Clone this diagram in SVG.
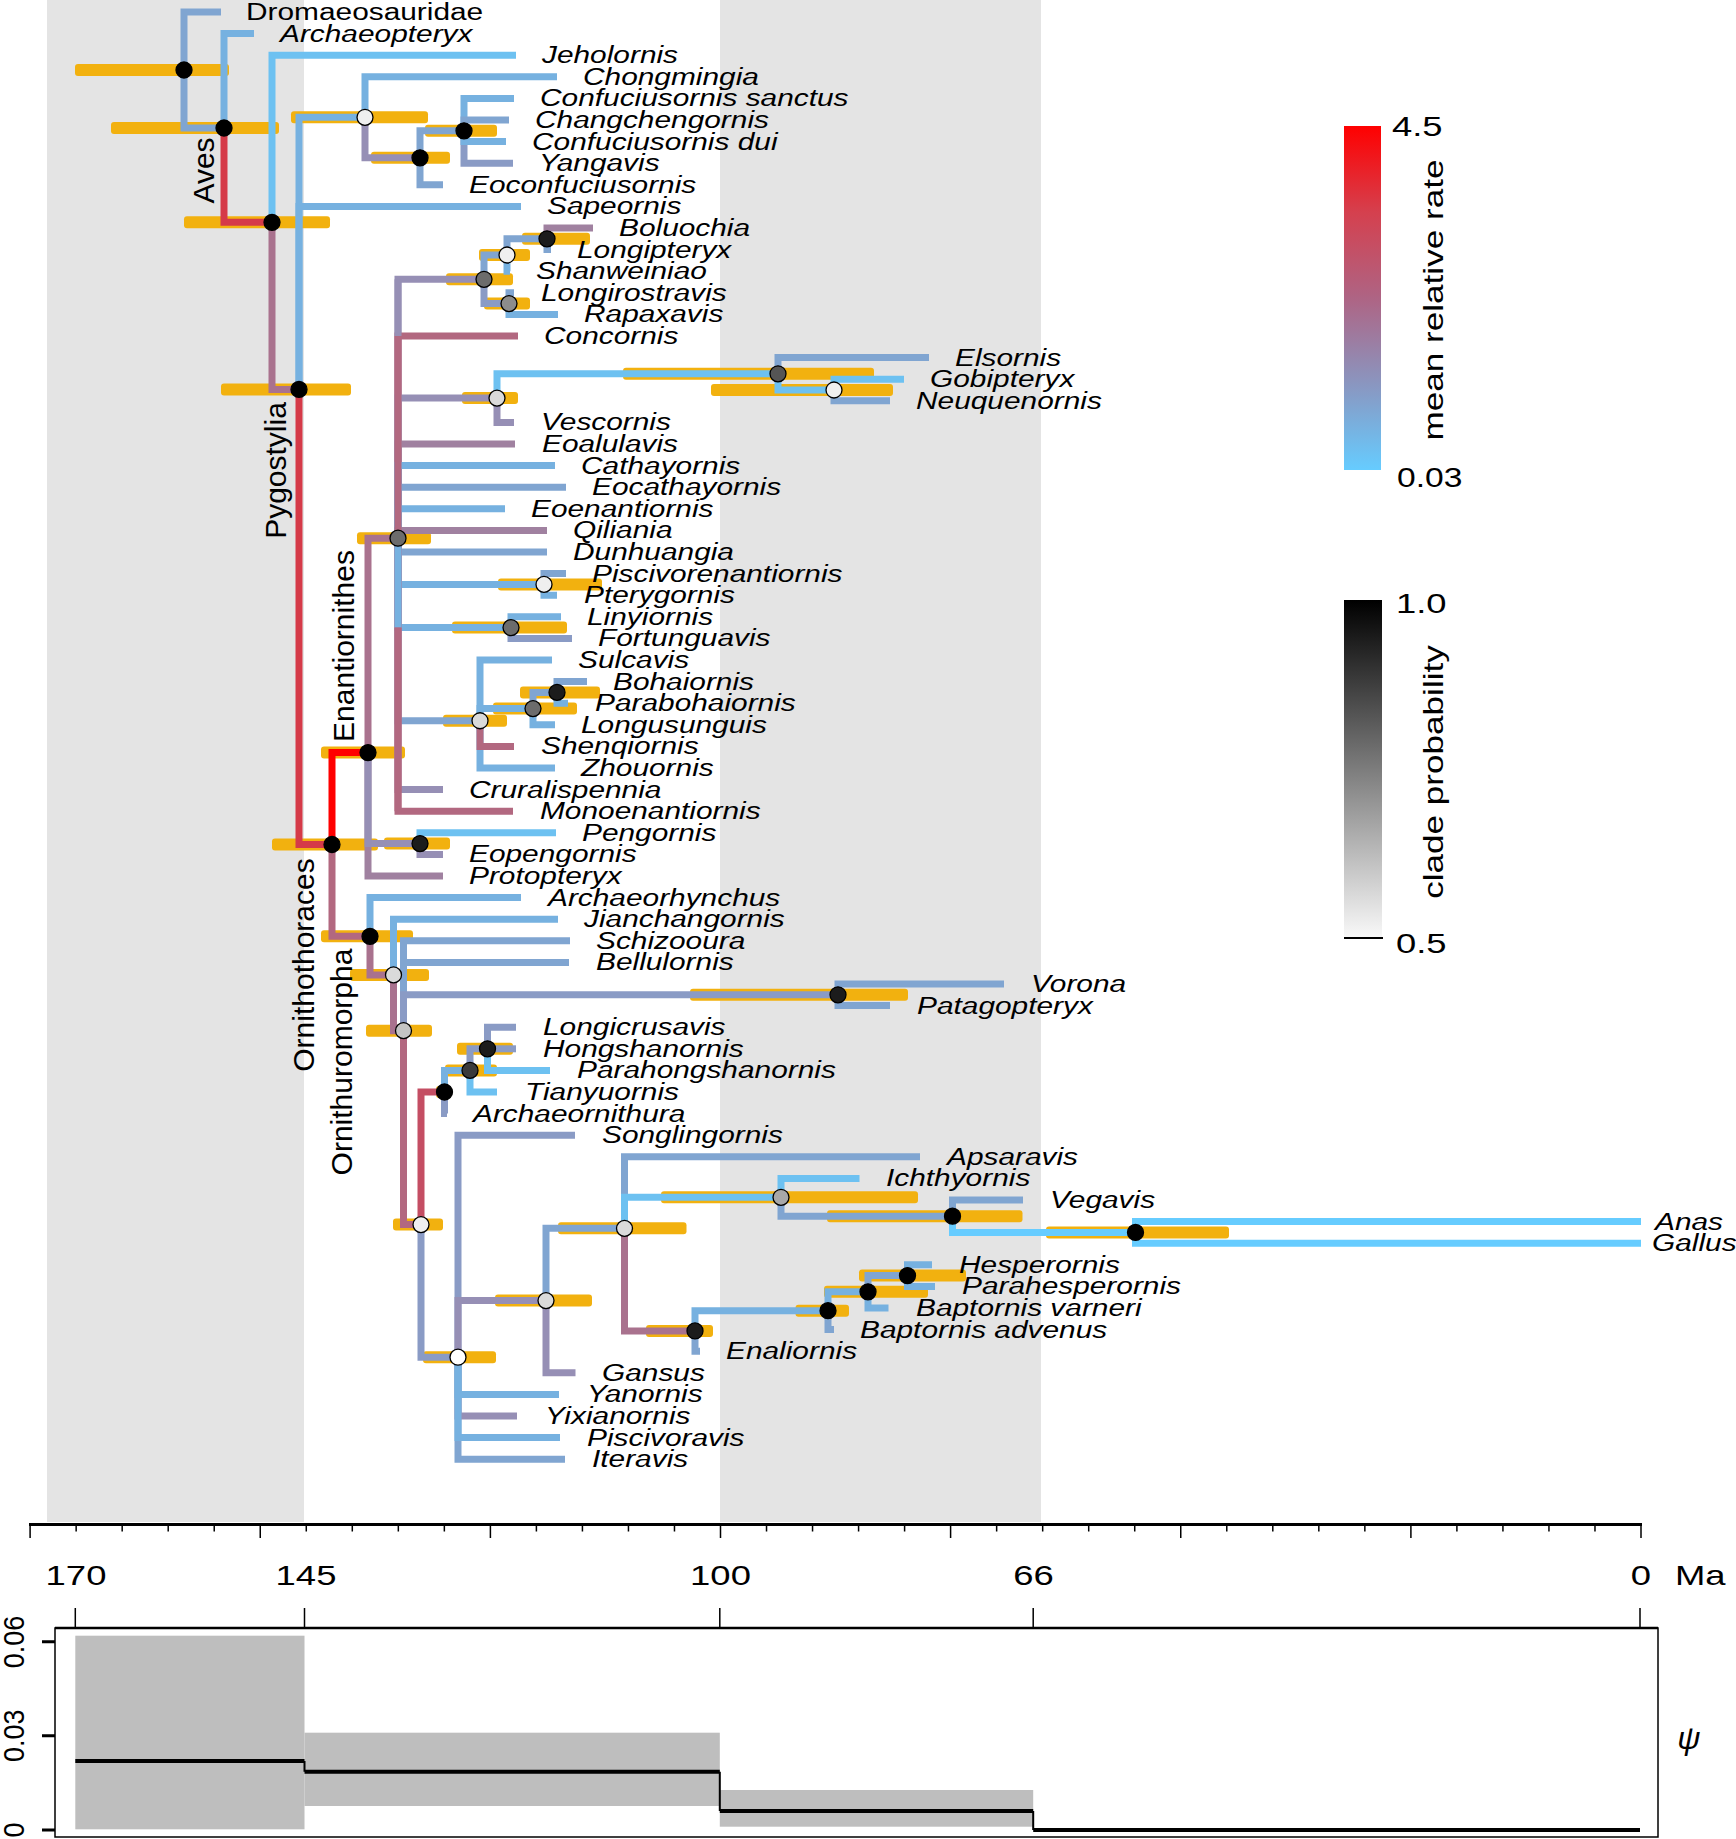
<svg xmlns="http://www.w3.org/2000/svg" width="1736" height="1839" viewBox="0 0 1736 1839">
<defs>
<style>
.bg{fill:#E4E4E4}
.hpd{fill:#F2B10F}
.br{fill:none;stroke-width:7;stroke-linecap:butt;stroke-linejoin:miter}
.b0{stroke:#66CCFF}.b1{stroke:#6DC1F1}.b2{stroke:#76B1E0}.b3{stroke:#80A5D1}.b4{stroke:#8A9BC5}.b5{stroke:#968FB5}
.b6{stroke:#A081A0}.b7{stroke:#A9728E}.b8{stroke:#B26880}.b9{stroke:#C44E63}.b10{stroke:#D53A48}.b11{stroke:#FF0000}
.nd{stroke:#000;stroke-width:1.3}
.k0{fill:#000}.k1{fill:#1c1c1c}.k2{fill:#3a3a3a}.k3{fill:#555}.k4{fill:#6c6c6c}.k5{fill:#8c8c8c}.k6{fill:#a8a8a8}.k7{fill:#c4c4c4}.k8{fill:#dadada}.k9{fill:#efefef}.k10{fill:#fff}
.tl{font-family:"Liberation Sans",Arial,sans-serif;font-size:23.5px;font-style:italic;fill:#000}
.tu{font-family:"Liberation Sans",Arial,sans-serif;font-size:23.5px;fill:#000}
.cl{font-family:"Liberation Sans",Arial,sans-serif;font-size:30px;fill:#000;text-anchor:middle}
.lg{font-family:"Liberation Sans",Arial,sans-serif;font-size:28px;fill:#000}
.lr{font-family:"Liberation Sans",Arial,sans-serif;font-size:27px;fill:#000;text-anchor:middle}
.ax{font-family:"Liberation Sans",Arial,sans-serif;font-size:27px;fill:#000;text-anchor:middle}
.ln{stroke:#000;fill:none}
</style>
<linearGradient id="rateGrad" x1="0" y1="0" x2="0" y2="1">
<stop offset="0" stop-color="#FF0000"/>
<stop offset="0.25" stop-color="#D5404E"/>
<stop offset="0.5" stop-color="#AE6484"/>
<stop offset="0.75" stop-color="#8A96C0"/>
<stop offset="1" stop-color="#66CCFF"/>
</linearGradient>
<linearGradient id="probGrad" x1="0" y1="0" x2="0" y2="1">
<stop offset="0" stop-color="#000000"/>
<stop offset="1" stop-color="#F8F8F8"/>
</linearGradient>
</defs>

<g id="time-bands">
<rect class="bg" x="47" y="0" width="257" height="1522"/>
<rect class="bg" x="720" y="0" width="321" height="1522"/>
</g>

<g id="hpd-bars">
<rect class="hpd" x="75" y="64" width="154" height="12" rx="3"/>
<rect class="hpd" x="111" y="122" width="168" height="12" rx="3"/>
<rect class="hpd" x="184" y="216.3" width="146" height="12" rx="3"/>
<rect class="hpd" x="221" y="383.4" width="130" height="12" rx="3"/>
<rect class="hpd" x="291" y="111.3" width="137" height="12" rx="3"/>
<rect class="hpd" x="371" y="151.8" width="79" height="12" rx="3"/>
<rect class="hpd" x="425" y="124.8" width="72" height="12" rx="3"/>
<rect class="hpd" x="272" y="838.5" width="106" height="12" rx="3"/>
<rect class="hpd" x="321" y="746.6" width="84" height="12" rx="3"/>
<rect class="hpd" x="357" y="532.2" width="74" height="12" rx="3"/>
<rect class="hpd" x="446" y="273.3" width="67" height="12" rx="3"/>
<rect class="hpd" x="479" y="249" width="51" height="12" rx="3"/>
<rect class="hpd" x="522" y="232.8" width="68" height="12" rx="3"/>
<rect class="hpd" x="484" y="297.6" width="46" height="12" rx="3"/>
<rect class="hpd" x="462" y="392.1" width="56" height="12" rx="3"/>
<rect class="hpd" x="623" y="367.8" width="251" height="12" rx="3"/>
<rect class="hpd" x="711" y="384" width="182" height="12" rx="3"/>
<rect class="hpd" x="498" y="578.4" width="104" height="12" rx="3"/>
<rect class="hpd" x="452" y="621.6" width="115" height="12" rx="3"/>
<rect class="hpd" x="443" y="714.75" width="64" height="12" rx="3"/>
<rect class="hpd" x="493" y="702.6" width="84" height="12" rx="3"/>
<rect class="hpd" x="520" y="686.4" width="80" height="12" rx="3"/>
<rect class="hpd" x="384" y="837.6" width="66" height="12" rx="3"/>
<rect class="hpd" x="321" y="930.3" width="92" height="12" rx="3"/>
<rect class="hpd" x="350" y="968.9" width="79" height="12" rx="3"/>
<rect class="hpd" x="366" y="1024.65" width="66" height="12" rx="3"/>
<rect class="hpd" x="690" y="988.8" width="218" height="12" rx="3"/>
<rect class="hpd" x="393" y="1218.6" width="50" height="12" rx="3"/>
<rect class="hpd" x="436" y="1086" width="12" height="12" rx="3"/>
<rect class="hpd" x="445" y="1064.4" width="52" height="12" rx="3"/>
<rect class="hpd" x="457" y="1042.8" width="56" height="12" rx="3"/>
<rect class="hpd" x="423" y="1351.2" width="73" height="12" rx="3"/>
<rect class="hpd" x="495" y="1294.6" width="97" height="12" rx="3"/>
<rect class="hpd" x="558" y="1222.35" width="128.5" height="12" rx="3"/>
<rect class="hpd" x="661" y="1191.3" width="257" height="12" rx="3"/>
<rect class="hpd" x="827" y="1210.2" width="195.5" height="12" rx="3"/>
<rect class="hpd" x="1046" y="1226.4" width="183" height="12" rx="3"/>
<rect class="hpd" x="646" y="1324.95" width="67" height="12" rx="3"/>
<rect class="hpd" x="795.5" y="1304.7" width="53.5" height="12" rx="3"/>
<rect class="hpd" x="824" y="1285.8" width="104" height="12" rx="3"/>
<rect class="hpd" x="859" y="1269.6" width="107" height="12" rx="3"/>
</g>

<g id="connectors">
<path class="br b3" d="M184 70V12H221"/>
<path class="br b3" d="M184 70V128H224"/>
<path class="br b2" d="M224 128V33.6H254"/>
<path class="br b10" d="M224 128V222.3H272"/>
<path class="br b1" d="M272 222.3V55.2H516"/>
<path class="br b7" d="M272 222.3V389.4H299"/>
<path class="br b2" d="M299 389.4V117.3H365"/>
<path class="br b2" d="M299 389.4V206.4H521"/>
<path class="br b10" d="M299 389.4V844.5H332"/>
<path class="br b2" d="M365 117.3V76.8H557"/>
<path class="br b5" d="M365 117.3V157.8H420"/>
<path class="br b3" d="M420 157.8V130.8H464"/>
<path class="br b3" d="M420 157.8V184.8H443"/>
<path class="br b2" d="M464 130.8V98.4H514"/>
<path class="br b3" d="M464 130.8V120H509"/>
<path class="br b4" d="M464 130.8V163.2H513"/>
<path class="br b2" d="M464 130.8V141.6H506"/>
<path class="br b11" d="M332 844.5V752.6H368"/>
<path class="br b8" d="M332 844.5V936.3H370"/>
<path class="br b7" d="M368 752.6V538.2H398"/>
<path class="br b6" d="M368 752.6V876H443"/>
<path class="br b5" d="M368 752.6V843.6H420"/>
<path class="br b5" d="M398 538.2V279.3H484"/>
<path class="br b8" d="M398 538.2V336H518"/>
<path class="br b5" d="M398 538.2V398.1H497"/>
<path class="br b6" d="M398 538.2V444H515"/>
<path class="br b2" d="M398 538.2V465.6H555"/>
<path class="br b3" d="M398 538.2V487.2H566"/>
<path class="br b2" d="M398 538.2V508.8H505"/>
<path class="br b6" d="M398 538.2V530.4H547"/>
<path class="br b3" d="M398 538.2V552H547"/>
<path class="br b2" d="M398 538.2V584.4H544"/>
<path class="br b2" d="M398 538.2V627.6H511"/>
<path class="br b3" d="M398 538.2V720.75H480"/>
<path class="br b5" d="M398 538.2V789.6H443"/>
<path class="br b8" d="M398 538.2V811.2H513"/>
<path class="br b5" d="M398 279.3V336"/>
<path class="br b8" d="M398 336V538.2"/>
<path class="br b2" d="M398 538.2V627.6"/>
<path class="br b8" d="M398 627.6V811.2"/>
<path class="br b3" d="M484 279.3V255H507"/>
<path class="br b4" d="M484 279.3V303.6H509"/>
<path class="br b3" d="M507 255V238.8H547"/>
<path class="br b2" d="M507 255V271.2H510"/>
<path class="br b6" d="M547 238.8V228H593"/>
<path class="br b3" d="M547 238.8V249.6H551"/>
<path class="br b3" d="M509 303.6V292.8H514"/>
<path class="br b2" d="M509 303.6V314.4H558"/>
<path class="br b1" d="M497 398.1V373.8H778"/>
<path class="br b5" d="M497 398.1V422.4H514"/>
<path class="br b3" d="M778 373.8V357.6H929"/>
<path class="br b1" d="M778 373.8V390H834"/>
<path class="br b1" d="M834 390V379.2H904"/>
<path class="br b3" d="M834 390V400.8H890"/>
<path class="br b3" d="M544 584.4V573.6H566"/>
<path class="br b2" d="M544 584.4V595.2H557"/>
<path class="br b2" d="M511 627.6V616.8H561"/>
<path class="br b4" d="M511 627.6V638.4H572"/>
<path class="br b2" d="M480 720.75V660H552"/>
<path class="br b2" d="M480 720.75V708.6H533"/>
<path class="br b2" d="M480 720.75V768H555"/>
<path class="br b8" d="M480 720.75V746.4H514"/>
<path class="br b3" d="M533 708.6V692.4H557"/>
<path class="br b2" d="M533 708.6V724.8H555"/>
<path class="br b3" d="M557 692.4V681.6H587"/>
<path class="br b2" d="M557 692.4V703.2H568"/>
<path class="br b1" d="M420 843.6V832.8H556"/>
<path class="br b5" d="M420 843.6V854.4H443"/>
<path class="br b2" d="M370 936.3V897.6H521"/>
<path class="br b7" d="M370 936.3V974.9H393.5"/>
<path class="br b2" d="M393.5 974.9V919.2H558"/>
<path class="br b7" d="M393.5 974.9V1030.65H403.5"/>
<path class="br b3" d="M403.5 1030.65V940.8H570"/>
<path class="br b3" d="M403.5 1030.65V962.4H569"/>
<path class="br b4" d="M403.5 1030.65V994.8H838"/>
<path class="br b8" d="M403.5 1030.65V1224.6H421"/>
<path class="br b3" d="M838 994.8V984H1004"/>
<path class="br b3" d="M838 994.8V1005.6H890"/>
<path class="br b9" d="M421 1224.6V1092H444.5"/>
<path class="br b4" d="M421 1224.6V1357.2H458"/>
<path class="br b2" d="M444.5 1092V1070.4H470"/>
<path class="br b4" d="M444.5 1092V1113.6H447"/>
<path class="br b4" d="M470 1070.4V1048.8H487.5"/>
<path class="br b1" d="M470 1070.4V1092H497"/>
<path class="br b4" d="M487.5 1048.8V1027.2H516"/>
<path class="br b4" d="M487.5 1048.8H516"/>
<path class="br b1" d="M487.5 1048.8V1070.4H550"/>
<path class="br b4" d="M458 1357.2V1135.2H575"/>
<path class="br b5" d="M458 1357.2V1300.6H546"/>
<path class="br b3" d="M458 1357.2V1459.2H565"/>
<path class="br b5" d="M458 1357.2V1416H517"/>
<path class="br b2" d="M458 1357.2V1394.4H559"/>
<path class="br b2" d="M458 1357.2V1437.6H560"/>
<path class="br b3" d="M546 1300.6V1228.35H624.5"/>
<path class="br b5" d="M546 1300.6V1372.8H575.5"/>
<path class="br b3" d="M624.5 1228.35V1156.8H920"/>
<path class="br b1" d="M624.5 1228.35V1197.3H781"/>
<path class="br b7" d="M624.5 1228.35V1330.95H695"/>
<path class="br b1" d="M781 1197.3V1178.4H859.5"/>
<path class="br b3" d="M781 1197.3V1216.2H952.5"/>
<path class="br b3" d="M952.5 1216.2V1200H1023"/>
<path class="br b0" d="M952.5 1216.2V1232.4H1135.5"/>
<path class="br b0" d="M1135.5 1232.4V1221.6H1641"/>
<path class="br b0" d="M1135.5 1232.4V1243.2H1641"/>
<path class="br b2" d="M695 1330.95V1310.7H828"/>
<path class="br b3" d="M695 1330.95V1351.2H700"/>
<path class="br b2" d="M828 1310.7V1291.8H868"/>
<path class="br b3" d="M828 1310.7V1329.6H834"/>
<path class="br b3" d="M868 1291.8V1275.6H907.5"/>
<path class="br b2" d="M868 1291.8V1308H888.5"/>
<path class="br b2" d="M907.5 1275.6V1264.8H932"/>
<path class="br b2" d="M907.5 1275.6V1286.4H935"/>
</g>

<g id="internal-nodes">
<g id="n-root"><circle class="nd k0" cx="184" cy="70" r="8"/></g>
<g id="n-aves"><circle class="nd k0" cx="224" cy="128" r="8"/></g>
<g id="n-n1"><circle class="nd k0" cx="272" cy="222.3" r="8"/></g>
<g id="n-pygostylia"><circle class="nd k0" cx="299" cy="389.4" r="8"/></g>
<g id="n-c0"><circle class="nd k9" cx="365" cy="117.3" r="8"/></g>
<g id="n-c1"><circle class="nd k0" cx="420" cy="157.8" r="8"/></g>
<g id="n-c2"><circle class="nd k0" cx="464" cy="130.8" r="8"/></g>
<g id="n-ornithothoraces"><circle class="nd k0" cx="332" cy="844.5" r="8"/></g>
<g id="n-enantiornithes"><circle class="nd k0" cx="368" cy="752.6" r="8"/></g>
<g id="n-e1"><circle class="nd k4" cx="398" cy="538.2" r="8"/></g>
<g id="n-l0"><circle class="nd k4" cx="484" cy="279.3" r="8"/></g>
<g id="n-l1"><circle class="nd k9" cx="507" cy="255" r="8"/></g>
<g id="n-l3"><circle class="nd k1" cx="547" cy="238.8" r="8"/></g>
<g id="n-l2"><circle class="nd k5" cx="509" cy="303.6" r="8"/></g>
<g id="n-v0"><circle class="nd k8" cx="497" cy="398.1" r="8"/></g>
<g id="n-el"><circle class="nd k3" cx="778" cy="373.8" r="8"/></g>
<g id="n-gn"><circle class="nd k9" cx="834" cy="390" r="8"/></g>
<g id="n-p"><circle class="nd k9" cx="544" cy="584.4" r="8"/></g>
<g id="n-lf"><circle class="nd k4" cx="511" cy="627.6" r="8"/></g>
<g id="n-b0"><circle class="nd k8" cx="480" cy="720.75" r="8"/></g>
<g id="n-b1"><circle class="nd k4" cx="533" cy="708.6" r="8"/></g>
<g id="n-b2"><circle class="nd k1" cx="557" cy="692.4" r="8"/></g>
<g id="n-peng"><circle class="nd k1" cx="420" cy="843.6" r="8"/></g>
<g id="n-ornithuromorpha"><circle class="nd k0" cx="370" cy="936.3" r="8"/></g>
<g id="n-u1"><circle class="nd k8" cx="393.5" cy="974.9" r="8"/></g>
<g id="n-u3"><circle class="nd k7" cx="403.5" cy="1030.65" r="8"/></g>
<g id="n-vp"><circle class="nd k1" cx="838" cy="994.8" r="8"/></g>
<g id="n-u5"><circle class="nd k9" cx="421" cy="1224.6" r="8"/></g>
<g id="n-h0"><circle class="nd k0" cx="444.5" cy="1092" r="8"/></g>
<g id="n-h1"><circle class="nd k2" cx="470" cy="1070.4" r="8"/></g>
<g id="n-h2"><circle class="nd k1" cx="487.5" cy="1048.8" r="8"/></g>
<g id="n-u6"><circle class="nd k10" cx="458" cy="1357.2" r="8"/></g>
<g id="n-s1"><circle class="nd k8" cx="546" cy="1300.6" r="8"/></g>
<g id="n-s2"><circle class="nd k8" cx="624.5" cy="1228.35" r="8"/></g>
<g id="n-s3"><circle class="nd k6" cx="781" cy="1197.3" r="8"/></g>
<g id="n-vg"><circle class="nd k0" cx="952.5" cy="1216.2" r="8"/></g>
<g id="n-ag"><circle class="nd k0" cx="1135.5" cy="1232.4" r="8"/></g>
<g id="n-en"><circle class="nd k1" cx="695" cy="1330.95" r="8"/></g>
<g id="n-hp"><circle class="nd k0" cx="828" cy="1310.7" r="8"/></g>
<g id="n-hb"><circle class="nd k0" cx="868" cy="1291.8" r="8"/></g>
<g id="n-hh"><circle class="nd k0" cx="907.5" cy="1275.6" r="8"/></g>
</g>

<g id="tip-labels">
<g id="t-dromaeosauridae"><text class="tu" transform="translate(246 20) scale(1.27 1)">Dromaeosauridae</text></g>
<g id="t-archaeopteryx"><text class="tl" transform="translate(280 41.6) scale(1.27 1)">Archaeopteryx</text></g>
<g id="t-jeholornis"><text class="tl" transform="translate(542 63.2) scale(1.27 1)">Jeholornis</text></g>
<g id="t-chongmingia"><text class="tl" transform="translate(583 84.8) scale(1.27 1)">Chongmingia</text></g>
<g id="t-csanctus"><text class="tl" transform="translate(540 106.4) scale(1.27 1)">Confuciusornis sanctus</text></g>
<g id="t-changchengornis"><text class="tl" transform="translate(535 128) scale(1.27 1)">Changchengornis</text></g>
<g id="t-cdui"><text class="tl" transform="translate(532 149.6) scale(1.27 1)">Confuciusornis dui</text></g>
<g id="t-yangavis"><text class="tl" transform="translate(539 171.2) scale(1.27 1)">Yangavis</text></g>
<g id="t-eoconfuciusornis"><text class="tl" transform="translate(469 192.8) scale(1.27 1)">Eoconfuciusornis</text></g>
<g id="t-sapeornis"><text class="tl" transform="translate(547 214.4) scale(1.27 1)">Sapeornis</text></g>
<g id="t-boluochia"><text class="tl" transform="translate(619 236) scale(1.27 1)">Boluochia</text></g>
<g id="t-longipteryx"><text class="tl" transform="translate(577 257.6) scale(1.27 1)">Longipteryx</text></g>
<g id="t-shanweiniao"><text class="tl" transform="translate(536 279.2) scale(1.27 1)">Shanweiniao</text></g>
<g id="t-longirostravis"><text class="tl" transform="translate(541 300.8) scale(1.27 1)">Longirostravis</text></g>
<g id="t-rapaxavis"><text class="tl" transform="translate(584 322.4) scale(1.27 1)">Rapaxavis</text></g>
<g id="t-concornis"><text class="tl" transform="translate(544 344) scale(1.27 1)">Concornis</text></g>
<g id="t-elsornis"><text class="tl" transform="translate(955 365.6) scale(1.27 1)">Elsornis</text></g>
<g id="t-gobipteryx"><text class="tl" transform="translate(930 387.2) scale(1.27 1)">Gobipteryx</text></g>
<g id="t-neuquenornis"><text class="tl" transform="translate(916 408.8) scale(1.27 1)">Neuquenornis</text></g>
<g id="t-vescornis"><text class="tl" transform="translate(541 430.4) scale(1.27 1)">Vescornis</text></g>
<g id="t-eoalulavis"><text class="tl" transform="translate(542 452) scale(1.27 1)">Eoalulavis</text></g>
<g id="t-cathayornis"><text class="tl" transform="translate(581 473.6) scale(1.27 1)">Cathayornis</text></g>
<g id="t-eocathayornis"><text class="tl" transform="translate(592 495.2) scale(1.27 1)">Eocathayornis</text></g>
<g id="t-eoenantiornis"><text class="tl" transform="translate(531 516.8) scale(1.27 1)">Eoenantiornis</text></g>
<g id="t-qiliania"><text class="tl" transform="translate(573 538.4) scale(1.27 1)">Qiliania</text></g>
<g id="t-dunhuangia"><text class="tl" transform="translate(573 560) scale(1.27 1)">Dunhuangia</text></g>
<g id="t-piscivorenantiornis"><text class="tl" transform="translate(592 581.6) scale(1.27 1)">Piscivorenantiornis</text></g>
<g id="t-pterygornis"><text class="tl" transform="translate(584 603.2) scale(1.27 1)">Pterygornis</text></g>
<g id="t-linyiornis"><text class="tl" transform="translate(587 624.8) scale(1.27 1)">Linyiornis</text></g>
<g id="t-fortunguavis"><text class="tl" transform="translate(598 646.4) scale(1.27 1)">Fortunguavis</text></g>
<g id="t-sulcavis"><text class="tl" transform="translate(578 668) scale(1.27 1)">Sulcavis</text></g>
<g id="t-bohaiornis"><text class="tl" transform="translate(613 689.6) scale(1.27 1)">Bohaiornis</text></g>
<g id="t-parabohaiornis"><text class="tl" transform="translate(595 711.2) scale(1.27 1)">Parabohaiornis</text></g>
<g id="t-longusunguis"><text class="tl" transform="translate(581 732.8) scale(1.27 1)">Longusunguis</text></g>
<g id="t-shenqiornis"><text class="tl" transform="translate(541 754.4) scale(1.27 1)">Shenqiornis</text></g>
<g id="t-zhouornis"><text class="tl" transform="translate(581 776) scale(1.27 1)">Zhouornis</text></g>
<g id="t-cruralispennia"><text class="tl" transform="translate(469 797.6) scale(1.27 1)">Cruralispennia</text></g>
<g id="t-monoenantiornis"><text class="tl" transform="translate(540 819.2) scale(1.27 1)">Monoenantiornis</text></g>
<g id="t-pengornis"><text class="tl" transform="translate(582 840.8) scale(1.27 1)">Pengornis</text></g>
<g id="t-eopengornis"><text class="tl" transform="translate(469 862.4) scale(1.27 1)">Eopengornis</text></g>
<g id="t-protopteryx"><text class="tl" transform="translate(469 884) scale(1.27 1)">Protopteryx</text></g>
<g id="t-archaeorhynchus"><text class="tl" transform="translate(548 905.6) scale(1.27 1)">Archaeorhynchus</text></g>
<g id="t-jianchangornis"><text class="tl" transform="translate(584 927.2) scale(1.27 1)">Jianchangornis</text></g>
<g id="t-schizooura"><text class="tl" transform="translate(596 948.8) scale(1.27 1)">Schizooura</text></g>
<g id="t-bellulornis"><text class="tl" transform="translate(596 970.4) scale(1.27 1)">Bellulornis</text></g>
<g id="t-vorona"><text class="tl" transform="translate(1031 992) scale(1.27 1)">Vorona</text></g>
<g id="t-patagopteryx"><text class="tl" transform="translate(917 1013.6) scale(1.27 1)">Patagopteryx</text></g>
<g id="t-longicrusavis"><text class="tl" transform="translate(543 1035.2) scale(1.27 1)">Longicrusavis</text></g>
<g id="t-hongshanornis"><text class="tl" transform="translate(543 1056.8) scale(1.27 1)">Hongshanornis</text></g>
<g id="t-parahongshanornis"><text class="tl" transform="translate(577 1078.4) scale(1.27 1)">Parahongshanornis</text></g>
<g id="t-tianyuornis"><text class="tl" transform="translate(525 1100) scale(1.27 1)">Tianyuornis</text></g>
<g id="t-archaeornithura"><text class="tl" transform="translate(473 1121.6) scale(1.27 1)">Archaeornithura</text></g>
<g id="t-songlingornis"><text class="tl" transform="translate(602 1143.2) scale(1.27 1)">Songlingornis</text></g>
<g id="t-apsaravis"><text class="tl" transform="translate(947 1164.8) scale(1.27 1)">Apsaravis</text></g>
<g id="t-ichthyornis"><text class="tl" transform="translate(886 1186.4) scale(1.27 1)">Ichthyornis</text></g>
<g id="t-vegavis"><text class="tl" transform="translate(1050 1208) scale(1.27 1)">Vegavis</text></g>
<g id="t-anas"><text class="tl" transform="translate(1655 1229.6) scale(1.27 1)">Anas</text></g>
<g id="t-gallus"><text class="tl" transform="translate(1652 1251.2) scale(1.27 1)">Gallus</text></g>
<g id="t-hesperornis"><text class="tl" transform="translate(959 1272.8) scale(1.27 1)">Hesperornis</text></g>
<g id="t-parahesperornis"><text class="tl" transform="translate(962 1294.4) scale(1.27 1)">Parahesperornis</text></g>
<g id="t-bvarneri"><text class="tl" transform="translate(916 1316) scale(1.27 1)">Baptornis varneri</text></g>
<g id="t-badvenus"><text class="tl" transform="translate(860 1337.6) scale(1.27 1)">Baptornis advenus</text></g>
<g id="t-enaliornis"><text class="tl" transform="translate(726 1359.2) scale(1.27 1)">Enaliornis</text></g>
<g id="t-gansus"><text class="tl" transform="translate(602 1380.8) scale(1.27 1)">Gansus</text></g>
<g id="t-yanornis"><text class="tl" transform="translate(587 1402.4) scale(1.27 1)">Yanornis</text></g>
<g id="t-yixianornis"><text class="tl" transform="translate(545 1424) scale(1.27 1)">Yixianornis</text></g>
<g id="t-piscivoravis"><text class="tl" transform="translate(587 1445.6) scale(1.27 1)">Piscivoravis</text></g>
<g id="t-iteravis"><text class="tl" transform="translate(592 1467.2) scale(1.27 1)">Iteravis</text></g>
</g>

<g id="clade-labels">
<text class="cl" transform="translate(214 170.5) rotate(-90)">Aves</text>
<text class="cl" transform="translate(286 470.5) rotate(-90)">Pygostylia</text>
<text class="cl" transform="translate(354 646) rotate(-90)">Enantiornithes</text>
<text class="cl" transform="translate(314 965) rotate(-90)">Ornithothoraces</text>
<text class="cl" transform="translate(352 1062) rotate(-90)">Ornithuromorpha</text>
</g>

<g id="legend-rate">
<rect x="1344" y="126" width="37" height="344" fill="url(#rateGrad)"/>
<text class="lg" transform="translate(1392 136) scale(1.3 1)">4.5</text>
<text class="lg" transform="translate(1397 487) scale(1.2 1)">0.03</text>
<text class="lr" transform="translate(1443 300) rotate(-90) scale(1.3 1)">mean relative rate</text>
</g>

<g id="legend-prob">
<rect x="1344" y="600" width="38" height="337" fill="url(#probGrad)"/>
<line class="ln" x1="1344" y1="938" x2="1383" y2="938" stroke-width="2"/>
<text class="lg" transform="translate(1396 613) scale(1.3 1)">1.0</text>
<text class="lg" transform="translate(1396 953) scale(1.3 1)">0.5</text>
<text class="lr" transform="translate(1443 772) rotate(-90) scale(1.3 1)">clade probability</text>
</g>

<g id="time-axis">
<line class="ln" x1="29" y1="1524.5" x2="1642" y2="1524.5" stroke-width="3"/>
<path class="ln" stroke-width="1.5" d="M30.1 1524V1538M260.25 1524V1538M490.4 1524V1538M720.5 1524V1538M950.6 1524V1538M1180.75 1524V1538M1410.9 1524V1538M1641 1524V1538"/>
<path class="ln" stroke-width="1.5" d="M76.15 1524V1531.5M122.18 1524V1531.5M168.2 1524V1531.5M214.23 1524V1531.5M306.28 1524V1531.5M352.3 1524V1531.5M398.33 1524V1531.5M444.35 1524V1531.5M536.4 1524V1531.5M582.43 1524V1531.5M628.45 1524V1531.5M674.48 1524V1531.5M766.53 1524V1531.5M812.55 1524V1531.5M858.58 1524V1531.5M904.6 1524V1531.5M996.65 1524V1531.5M1042.68 1524V1531.5M1088.7 1524V1531.5M1134.73 1524V1531.5M1226.78 1524V1531.5M1272.8 1524V1531.5M1318.83 1524V1531.5M1364.85 1524V1531.5M1456.9 1524V1531.5M1502.93 1524V1531.5M1548.95 1524V1531.5M1594.98 1524V1531.5"/>
<text class="ax" transform="translate(76 1585) scale(1.35 1)">170</text>
<text class="ax" transform="translate(306 1585) scale(1.35 1)">145</text>
<text class="ax" transform="translate(720.5 1585) scale(1.35 1)">100</text>
<text class="ax" transform="translate(1033.5 1585) scale(1.35 1)">66</text>
<text class="ax" transform="translate(1641 1585) scale(1.35 1)">0</text>
<text class="ax" transform="translate(1675 1585) scale(1.35 1)" style="text-anchor:start">Ma</text>
</g>

<g id="psi-panel">
<rect x="75.3" y="1635.7" width="229.2" height="193.6" fill="#BEBEBE"/>
<rect x="304.5" y="1732.7" width="415.3" height="73.3" fill="#BEBEBE"/>
<rect x="719.8" y="1790" width="313.4" height="36.7" fill="#BEBEBE"/>
<path class="ln" stroke-width="1.5" d="M75.3 1608V1628M304.5 1608V1628M719.8 1608V1628M1033.2 1608V1628M1640 1608V1628"/>
<rect x="55" y="1628" width="1603" height="209" fill="none" stroke="#000" stroke-width="1.5"/>
<line class="ln" x1="55" y1="1628" x2="1658" y2="1628" stroke-width="2.5"/>
<path class="ln" stroke-width="3" d="M42 1641.7H55M42 1735.8H55M42 1830H55"/>
<path class="ln" stroke-width="2" d="M304.5 1761V1771.7M719.8 1771.7V1811M1033.2 1811V1830"/>
<path class="ln" stroke-width="4" d="M75.3 1761H304.5M304.5 1771.7H719.8M719.8 1811H1033.2M1033.2 1830H1640"/>
<text class="cl" transform="translate(24 1642) rotate(-90) scale(0.9 1)">0.06</text>
<text class="cl" transform="translate(24 1735.8) rotate(-90) scale(0.9 1)">0.03</text>
<text class="cl" transform="translate(24 1830) rotate(-90) scale(0.9 1)">0</text>
<text class="cl" x="1689" y="1749" style="font-style:italic;font-size:32px">ψ</text>
</g>
</svg>
